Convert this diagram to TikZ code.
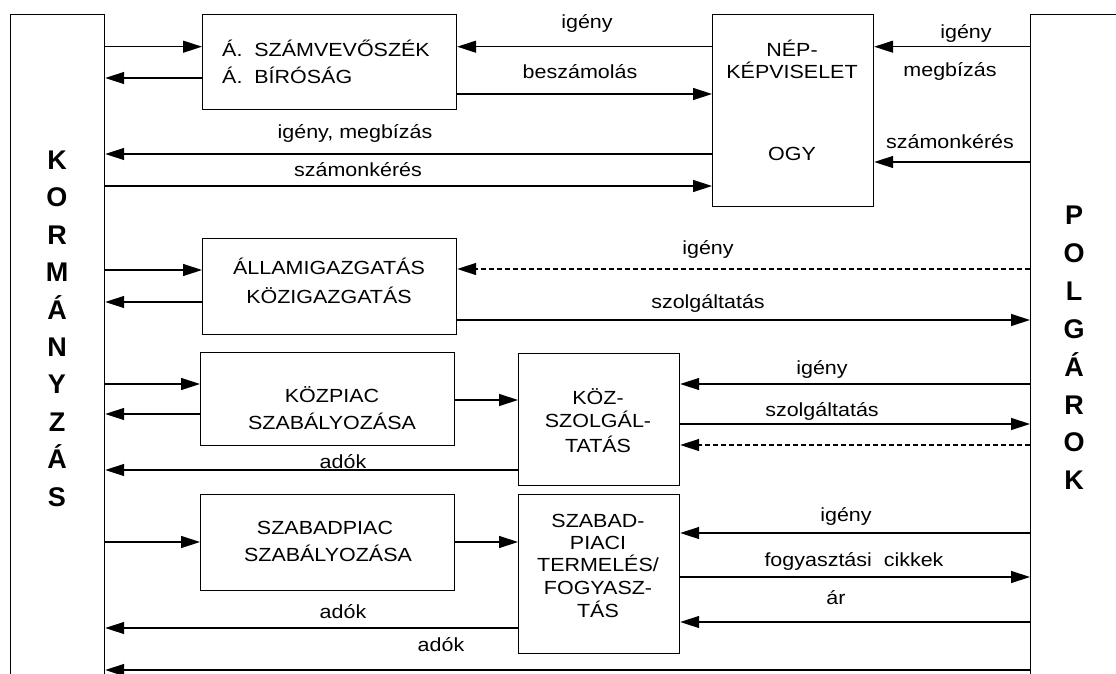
\documentclass[tikz,border=0pt]{standalone}
\usepackage{fontspec}
\setmainfont{Liberation Sans}
\newfontfamily\lblfont[FakeStretch=1.13]{Liberation Sans}
\usetikzlibrary{arrows.meta}
\begin{document}
\begin{tikzpicture}[x=1pt,y=-1pt,
  box/.style={draw, line width=1.2pt, anchor=north west, inner sep=0pt},
  conn/.style={line width=1.3pt, -{Triangle[length=19pt,width=12pt]}},
  dconn/.style={conn, dash pattern=on 5pt off 3pt},
  lbl/.style={font=\lblfont\fontsize{19}{22}\selectfont, inner sep=0pt, text height=13pt, text depth=0pt},
  big/.style={font=\bfseries\fontsize{27}{30}\selectfont, inner sep=0pt, text height=19pt, text depth=0pt}]
\useasboundingbox (0,0) rectangle (1116,674);
\clip (0,0) rectangle (1116,674);
% main blocks
\node[box, minimum width=94pt, minimum height=700pt] (gov) at (10,14) {};
\node[box, minimum width=120pt, minimum height=700pt] (cit) at (1030,14) {};
\node[box, minimum width=254pt, minimum height=95pt] (asz) at (202,14) {};
\node[box, minimum width=161pt, minimum height=192pt] (nep) at (712,14) {};
\node[box, minimum width=254pt, minimum height=96pt] (allam) at (202,238) {};
\node[box, minimum width=254pt, minimum height=93pt] (kpiac) at (200,352) {};
\node[box, minimum width=161pt, minimum height=132pt] (kszolg) at (518,353) {};
\node[box, minimum width=254pt, minimum height=96pt] (spiac) at (200,494) {};
\node[box, minimum width=161pt, minimum height=159pt] (sterm) at (518,494) {};
% box texts
\node[lbl, anchor=west] (t1) at (222,50) {Á.~~SZÁMVEVŐSZÉK};
\node[lbl, anchor=west] (t2) at (222,77) {Á.~~BÍRÓSÁG};
\node[lbl] (t3) at (792,50) {NÉP-};
\node[lbl] (t4) at (792,72) {KÉPVISELET};
\node[lbl] (t5) at (792,154) {OGY};
\node[lbl] (t6) at (329,268) {ÁLLAMIGAZGATÁS};
\node[lbl] (t7) at (329,297) {KÖZIGAZGATÁS};
\node[lbl] (t8) at (332,396) {KÖZPIAC};
\node[lbl] (t9) at (332,423) {SZABÁLYOZÁSA};
\node[lbl] (t10) at (598,398) {KÖZ-};
\node[lbl] (t11) at (598,421) {SZOLGÁL-};
\node[lbl] (t12) at (598,446) {TATÁS};
\node[lbl] (t13) at (325,528) {SZABADPIAC};
\node[lbl] (t14) at (328,555) {SZABÁLYOZÁSA};
\node[lbl] (t15) at (598,521) {SZABAD-};
\node[lbl] (t16) at (598,543) {PIACI};
\node[lbl] (t17) at (598,565) {TERMELÉS/};
\node[lbl] (t18) at (598,588) {FOGYASZ-};
\node[lbl] (t19) at (598,611) {TÁS};
% vertical words
\foreach \ch [count=\i from 0] in {K,O,R,M,Á,N,Y,Z,Á,S}
  \node[big] (g\i) at (57,160+37.4*\i) {\ch};
\foreach \ch [count=\i from 0] in {P,O,L,G,Á,R,O,K}
  \node[big] (c\i) at (1074,215+37.9*\i) {\ch};
% connectors: row 1
\draw[conn] (gov.east |- 0,46.7) -- (asz.west |- 0,46.7);
\draw[conn] (asz.west |- 0,78) -- (gov.east |- 0,78);
\draw[conn] (nep.west |- 0,46.7) -- (asz.east |- 0,46.7);
\draw[conn] (asz.east |- 0,94) -- (nep.west |- 0,94);
\draw[conn] (nep.west |- 0,154) -- (gov.east |- 0,154);
\draw[conn] (gov.east |- 0,186) -- (nep.west |- 0,186);
\draw[conn] (cit.west |- 0,46.7) -- (nep.east |- 0,46.7);
\draw[conn] (cit.west |- 0,162) -- (nep.east |- 0,162);
\node[lbl] (l1) at (587,22) {igény};
\node[lbl] (l2) at (580,72) {beszámolás};
\node[lbl] (l3) at (355,132) {igény,~megbízás};
\node[lbl] (l4) at (358,170) {számonkérés};
\node[lbl] (l5) at (966,32) {igény};
\node[lbl] (l6) at (950,70) {megbízás};
\node[lbl] (l7) at (950,142) {számonkérés};
% row 2
\draw[conn] (gov.east |- 0,270) -- (allam.west |- 0,270);
\draw[conn] (allam.west |- 0,302) -- (gov.east |- 0,302);
\draw[dconn] (cit.west |- 0,269) -- (allam.east |- 0,269);
\draw[conn] (allam.east |- 0,320) -- (cit.west |- 0,320);
\node[lbl] (l8) at (708,248) {igény};
\node[lbl] (l9) at (708,302) {szolgáltatás};
% row 3
\draw[conn] (gov.east |- 0,384) -- (kpiac.west |- 0,384);
\draw[conn] (kpiac.west |- 0,414) -- (gov.east |- 0,414);
\draw[conn] (kpiac.east |- 0,400) -- (kszolg.west |- 0,400);
\draw[conn] (cit.west |- 0,384) -- (kszolg.east |- 0,384);
\draw[conn] (kszolg.east |- 0,424) -- (cit.west |- 0,424);
\draw[dconn] (cit.west |- 0,445) -- (kszolg.east |- 0,445);
\draw[conn] (kszolg.west |- 0,470) -- (gov.east |- 0,470);
\node[lbl] (l10) at (822,368) {igény};
\node[lbl] (l11) at (822,410) {szolgáltatás};
\node[lbl] (l12) at (343,462) {adók};
% row 4
\draw[conn] (gov.east |- 0,542) -- (spiac.west |- 0,542);
\draw[conn] (spiac.east |- 0,542) -- (sterm.west |- 0,542);
\draw[conn] (cit.west |- 0,533) -- (sterm.east |- 0,533);
\draw[conn] (sterm.east |- 0,577) -- (cit.west |- 0,577);
\draw[conn] (cit.west |- 0,622) -- (sterm.east |- 0,622);
\draw[conn] (sterm.west |- 0,628) -- (gov.east |- 0,628);
\draw[conn] (cit.west |- 0,670) -- (gov.east |- 0,670);
\node[lbl] (l13) at (846,515) {igény};
\node[lbl] (l14) at (854,560) {fogyasztási~~cikkek};
\node[lbl] (l15) at (836,598) {ár};
\node[lbl] (l16) at (343,612) {adók};
\node[lbl] (l17) at (441,645) {adók};
\end{tikzpicture}
\end{document}
